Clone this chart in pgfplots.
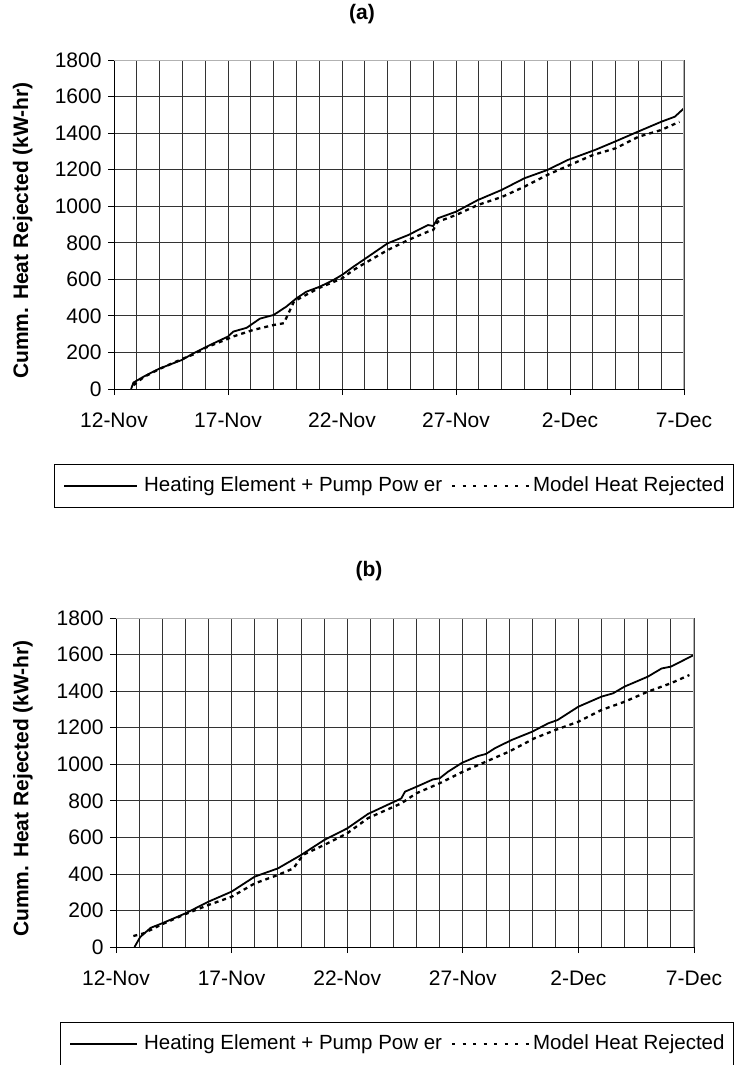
\documentclass[border=0pt]{standalone}
\usepackage{fontspec}
\setmainfont{Liberation Sans}
\usepackage{pgfplots}
\usepackage{pgfplotstable}
\pgfplotsset{compat=1.18}

\pgfplotstableread{
d v
0.75 0
0.85 35
1.29 67
1.72 95
2.02 113
2.5 136
2.98 159
3.48 195
4.06 231
4.5 258
5.0 287
5.23 314
5.82 335
6.4 385
7.0 405
7.55 450
8.0 496
8.43 532
9.03 560
9.62 596
10.0 624
10.5 669
11.1 720
12.0 797
12.9 842
13.77 897
14.0 892
14.2 934
15.0 970
15.96 1034
17.0 1089
18.0 1153
19.0 1198
19.9 1253
21.1 1308
21.96 1353
22.98 1408
24.0 1462
24.6 1490
25.0 1536
}\aSolid

\pgfplotstableread{
d v
0.85 20
1.3 65
2.0 110
3.0 165
3.5 190
4.0 225
5.0 275
5.2 286
6.1 323
7.0 350
7.45 360
7.9 480
8.5 520
9.0 553
10.0 605
10.5 651
11.0 688
12.0 760
12.9 815
13.77 861
14.0 870
14.2 915
15.0 952
15.96 1007
17.0 1050
18.0 1107
19.0 1171
20.0 1226
21.0 1280
22.0 1317
23.0 1380
24.0 1417
24.8 1462
}\aDot

\pgfplotstableread{
d v
0.8 0
1.05 55
1.5 105
2.0 130
3.0 184
4.0 248
5.0 303
6.0 385
7.0 430
8.0 503
9.0 585
10.0 649
10.9 728
12.34 813
12.5 850
13.0 877
13.71 917
14.0 923
14.36 959
14.97 1008
15.66 1045
16.0 1056
16.38 1087
17.1 1132
18.0 1178
18.7 1224
19.1 1242
20.0 1315
21.0 1370
21.5 1388
22.0 1425
22.5 1452
23.0 1479
23.6 1524
24.0 1534
25.0 1598
}\bSolid

\pgfplotstableread{
d v
0.75 60
1.2 75
2.0 125
3.0 180
4.0 230
5.0 275
6.0 348
7.0 394
7.67 430
8.1 505
9.0 558
10.0 622
10.9 705
12.34 786
12.99 841
14.0 896
15.0 959
16.0 1014
17.0 1069
18.1 1142
19.0 1187
20.0 1233
21.0 1297
22.0 1342
23.0 1397
24.0 1443
24.8 1488
}\bDot

\pgfplotsset{
  mystyle/.style={
    scale only axis, height=329pt,
    xmin=0, xmax=25, ymin=0, ymax=1800,
    xtick={0,5,...,25},
    xticklabels={12-Nov,17-Nov,22-Nov,27-Nov,2-Dec,7-Dec},
    ytick={0,200,...,1800},
    minor x tick num=4,
    xmajorgrids, xminorgrids, ymajorgrids,
    grid style={black!80, line width=0.8pt},
    minor grid style={black!80, line width=0.8pt},
    axis x line*=bottom, axis y line*=left,
    axis line style={black, line width=1pt},
    tick align=outside, major tick length=6pt, minor tick length=0pt,
    tick style={black, line width=0.8pt},
    /pgf/number format/assume math mode=true,
    /pgf/number format/1000 sep={},
    tick label style={font=\fontsize{21}{25}\selectfont},
    xticklabel style={anchor=north, text height=15pt, text depth=4pt, inner sep=0pt, yshift=-17pt},
    yticklabel style={xshift=-3pt},
    label style={font=\bfseries\fontsize{21}{25}\selectfont},
    ylabel={Cumm. Heat Rejected (kW-hr)},
    title style={font=\bfseries\fontsize{21}{25}\selectfont, anchor=center},
    legend columns=2,
    legend cell align=left,
    legend style={font=\fontsize{20.5}{24}\selectfont, draw=black, line width=1pt,
      inner xsep=9pt, inner ysep=11.5pt, anchor=north west, column sep=0pt,
      nodes={inner sep=0pt, text height=15pt, text depth=5pt}},
  }
}

\begin{document}
\begin{tikzpicture}
\path[use as bounding box] (0pt,0pt) rectangle (736pt,-1065pt);

% Panel (a)
\begin{axis}[mystyle, width=570pt, at={(114pt,-389pt)}, anchor=south west,
  title={(a)}, title style={at={(0.435,1.1216)}},
  ylabel style={at={(axis description cs:-0.16,0.482)}, anchor=center},
  legend style={at={(-0.10526,-0.228)}}]
\addplot[black, line width=1.8pt,
  legend image code/.code={\path[draw=none] (0pt,0pt) -- (80pt,0pt); \draw[black, line width=1.3pt, solid] (0pt,0pt) -- (73pt,0pt);}]
  table[x=d, y=v] {\aSolid};
\addlegendentry{Heating Element + Pump Pow er}
\addplot[black, line width=2.3pt, dash pattern=on 4pt off 4pt,
  legend image code/.code={\path[draw=none] (0pt,0pt) -- (91pt,0pt); \draw[black, line width=1.3pt, dash pattern=on 3pt off 7.5pt] (10pt,0pt) -- (87pt,0pt);}]
  table[x=d, y=v] {\aDot};
\addlegendentry{Model Heat Rejected}
\draw[gray!60, line width=1.5pt] (rel axis cs:0,1) -- (rel axis cs:1,1) -- (rel axis cs:1,0);
\end{axis}

% Panel (b)
\begin{axis}[mystyle, width=578pt, at={(116pt,-947pt)}, anchor=south west,
  title={(b)}, title style={at={(0.4377,1.1246)}},
  ylabel style={at={(axis description cs:-0.161,0.482)}, anchor=center},
  legend style={at={(-0.0969,-0.228)}}]
\addplot[black, line width=1.8pt,
  legend image code/.code={\path[draw=none] (0pt,0pt) -- (74pt,0pt); \draw[black, line width=1.3pt, solid] (0pt,0pt) -- (67pt,0pt);}]
  table[x=d, y=v] {\bSolid};
\addlegendentry{Heating Element + Pump Pow er}
\addplot[black, line width=2.3pt, dash pattern=on 4pt off 4pt,
  legend image code/.code={\path[draw=none] (0pt,0pt) -- (91pt,0pt); \draw[black, line width=1.3pt, dash pattern=on 3pt off 7.5pt] (10pt,0pt) -- (87pt,0pt);}]
  table[x=d, y=v] {\bDot};
\addlegendentry{Model Heat Rejected}
\draw[gray!60, line width=1.5pt] (rel axis cs:0,1) -- (rel axis cs:1,1) -- (rel axis cs:1,0);
\end{axis}
\end{tikzpicture}
\end{document}
